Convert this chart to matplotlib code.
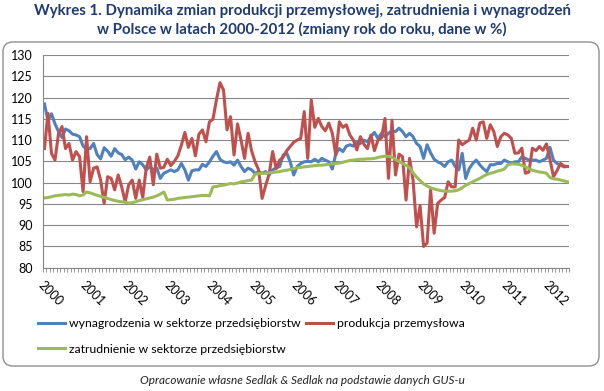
import matplotlib.pyplot as plt
import numpy as np
import pandas as pd
from matplotlib.patches import FancyBboxPatch
from matplotlib.transforms import IdentityTransform

plt.rcParams['font.family'] = ['Lato', 'DejaVu Sans']

# miesiace 2000-01 .. 2012-06
months = pd.date_range('2000-01-01', periods=150, freq='MS')

wynagrodzenia = [
    118.5, 114.6, 116.2, 113.8, 112.0, 110.6, 112.6, 112.2, 111.4, 111.2, 110.8, 108.6,  # 2000
    107.9, 108.0, 109.2, 106.6, 105.6, 108.2, 107.4, 106.2, 108.0, 107.0, 106.6, 105.4,  # 2001
    106.0, 105.3, 103.2, 104.9, 104.2, 103.0, 103.8, 103.0, 103.4, 101.0, 102.2, 102.6,  # 2002
    103.0, 102.6, 103.0, 104.5, 103.0, 100.6, 102.8, 103.0, 103.0, 104.3, 103.8, 104.9,  # 2003
    106.2, 107.3, 105.5, 104.9, 104.7, 104.9, 104.1, 105.3, 103.8, 102.6, 103.4, 103.0,  # 2004
    102.2, 102.6, 102.2, 102.6, 101.8, 103.0, 103.4, 103.8, 106.5, 107.0, 104.9, 101.8,  # 2005
    103.8, 104.5, 104.9, 105.0, 104.9, 105.5, 104.9, 105.7, 105.3, 104.9, 103.2, 106.8,  # 2006
    108.0, 107.3, 108.6, 108.9, 108.6, 109.6, 109.2, 110.0, 109.6, 110.8, 111.8, 110.4,  # 2007
    111.6, 110.8, 111.6, 112.2, 112.0, 112.8, 112.0, 110.8, 111.6, 110.8, 109.2, 108.5,  # 2008
    105.7, 108.9, 107.0, 105.5, 104.9, 104.5, 103.8, 104.9, 105.3, 103.8, 103.0, 106.9,  # 2009
    101.0, 103.3, 104.5, 105.3, 104.2, 103.3, 102.6, 104.2, 104.2, 104.5, 104.5, 105.3,  # 2010
    104.9, 104.5, 104.9, 104.9, 106.1, 105.7, 105.3, 105.3, 105.3, 104.9, 105.3, 105.7,  # 2011
    108.3, 105.3, 104.5, 104.1, 103.7, 103.8,                                            # 2012
]

produkcja = [
    108.0, 116.3, 106.9, 105.3, 111.5, 113.2, 108.0, 109.2, 105.3, 107.3, 106.1, 97.9,
    110.8, 100.2, 103.4, 103.7, 100.6, 95.1, 101.4, 101.0, 98.3, 101.8, 99.0, 95.5,
    99.5, 100.6, 96.3, 100.6, 96.5, 103.5, 106.0, 99.5, 106.7, 103.4, 103.6, 105.5,
    104.0, 105.0, 106.3, 108.8, 111.8, 108.3, 110.4, 106.3, 111.4, 112.4, 109.6, 114.3,
    114.9, 119.5, 123.5, 121.8, 112.4, 115.5, 106.5, 113.8, 110.0, 105.7, 111.6, 107.5,
    104.9, 103.0, 96.3, 99.3, 102.0, 107.3, 103.3, 105.3, 106.0, 107.5, 108.5, 109.5,
    110.0, 110.4, 116.7, 105.7, 119.4, 113.0, 115.1, 113.2, 112.2, 114.0, 111.6, 106.5,
    114.3, 113.0, 113.6, 111.2, 110.0, 107.7, 110.8, 109.0, 108.0, 111.2, 107.5, 110.0,
    110.5, 115.1, 101.0, 114.7, 101.8, 106.7, 106.1, 95.9, 105.7, 100.6, 89.6, 94.6,
    85.0, 85.8, 98.3, 88.1, 95.1, 95.9, 96.5, 100.2, 99.0, 99.0, 110.0, 108.9,
    109.5, 110.0, 112.8, 110.0, 114.0, 114.3, 110.4, 113.6, 112.0, 108.5, 110.8, 111.6,
    111.2, 110.4, 106.9, 107.0, 108.1, 102.2, 102.5, 108.1, 107.5, 108.5, 107.6, 109.1,
    105.5, 101.4, 102.8, 104.5, 103.9, 103.8,
]

zatrudnienie = [
    96.4, 96.5, 96.7, 96.9, 97.0, 97.1, 97.2, 97.1, 97.3, 97.2, 96.9, 97.1,
    97.8, 97.6, 97.3, 97.0, 96.8, 96.5, 96.3, 96.0, 95.8, 95.6, 95.5, 95.4,
    95.2, 95.3, 95.5, 95.8, 96.0, 96.2, 96.4, 96.6, 96.9, 97.3, 97.8, 95.9,
    96.0, 96.1, 96.3, 96.4, 96.5, 96.6, 96.7, 96.8, 96.9, 97.0, 97.0, 96.9,
    99.0, 99.1, 99.3, 99.4, 99.6, 99.8, 99.7, 99.9, 100.2, 100.3, 100.5, 100.6,
    102.0, 102.1, 102.2, 102.2, 102.3, 102.4, 102.5, 102.6, 102.8, 102.9, 103.1, 103.3,
    103.5, 103.6, 103.7, 103.8, 103.9, 104.0, 104.1, 104.1, 104.2, 104.3, 104.4, 104.5,
    104.6, 104.8, 105.0, 105.2, 105.3, 105.4, 105.5, 105.5, 105.6, 105.6, 105.7, 105.9,
    106.1, 106.2, 106.2, 106.0, 105.4, 105.0, 104.5, 104.1, 103.5, 102.3, 101.3, 100.5,
    99.7, 99.2, 98.8, 98.5, 98.3, 98.1, 98.0, 98.0, 98.0, 98.1, 98.3, 98.8,
    99.4, 99.8, 100.2, 100.6, 101.0, 101.5, 101.9, 102.2, 102.4, 102.7, 102.9, 103.2,
    104.2, 104.4, 104.4, 104.3, 104.1, 103.7, 103.3, 102.9, 102.7, 102.5, 102.4, 102.2,
    101.2, 100.9, 100.8, 100.6, 100.4, 100.2,
]

fig = plt.figure(figsize=(6.04, 3.91), dpi=100)
ax = fig.add_axes([0.0707, 0.3153, 0.8718, 0.544])

x = np.arange(len(months))
l1, = ax.plot(x, wynagrodzenia, color='#4F81BD', lw=2.2,
              label='wynagrodzenia w sektorze przedsiębiorstw')
l2, = ax.plot(x, produkcja, color='#C0504D', lw=2.2,
              label='produkcja przemysłowa')
l3, = ax.plot(x, zatrudnienie, color='#9BBB59', lw=2.2,
              label='zatrudnienie w sektorze przedsiębiorstw')

ax.set_xlim(-0.5, len(months) - 0.5)
ax.set_ylim(80, 130)
ax.set_yticks(range(80, 131, 5))
ax.grid(axis='y', color='#878787', lw=0.8)
ax.set_axisbelow(True)
for s in ['top', 'right']:
    ax.spines[s].set_visible(False)
for s in ['left', 'bottom']:
    ax.spines[s].set_color('#878787')

year_pos = [i for i, d in enumerate(months) if d.month == 1]
ax.set_xticks(year_pos)
ax.set_xticklabels([str(months[i].year) for i in year_pos], rotation=-45,
                   ha='left', va='top', rotation_mode='anchor')
ax.set_xticks(np.arange(-0.5, len(months)), minor=True)
ax.tick_params(axis='x', which='major', length=0, pad=8, labelsize=9)
ax.tick_params(axis='x', which='minor', length=3, color='#878787', direction='out')
ax.tick_params(axis='y', length=0, pad=7, labelsize=9)

fig.text(0.5, 1 - 4 / 391,
         'Wykres 1. Dynamika zmian produkcji przemysłowej, zatrudnienia i wynagrodzeń\n'
         'w Polsce w latach 2000-2012 (zmiany rok do roku, dane w %)',
         ha='center', va='top', fontsize=10.8, fontweight='bold', color='#1F3A6E',
         linespacing=1.3)

box = FancyBboxPatch((3, 391 - 366), 596, 324, boxstyle='round,pad=0,rounding_size=10',
                     transform=IdentityTransform(), fill=False, ec='#8f8f8f', lw=1)
fig.add_artist(box)

fig.legend(handles=[l1, l3, l2], loc='upper left', bbox_to_anchor=(38 / 604, 1 - 318 / 391),
           ncol=2, frameon=False, fontsize=8.8, handlelength=2.2, handletextpad=0.3,
           columnspacing=0.5, labelspacing=1.2, borderpad=0, borderaxespad=0)

fig.text(0.5, 1 - 381 / 391, 'Opracowanie własne Sedlak & Sedlak na podstawie danych GUS-u',
         ha='center', va='center', fontsize=8.5, style='italic', color='#222222')

fig.savefig('out.png', dpi=100)
